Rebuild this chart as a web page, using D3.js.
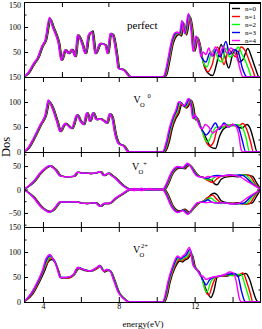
<!DOCTYPE html>
<html><head><meta charset="utf-8">
<script src="https://cdn.jsdelivr.net/npm/d3@7"></script>
<style>body{margin:0;background:#fff}svg{display:block}text{font-family:"Liberation Serif","DejaVu Serif",serif}</style>
</head><body>
<svg id="c" width="262" height="329"></svg>
<script>
const seriesNames = ["n=0","n=1","n=2","n=3","n=4"];
const seriesColors = ["#000000","#ff0000","#00ff00","#0000ff","#ff00ff"];
const xDomain = [3, 15.5];
const xTicksMajor = [4, 8, 12];
const xTicksMinor = [6, 10, 14];
const perfectXTicks = [5, 7.45, 11.9];
const yDomains = [[0,150],[0,150],[-80,80],[0,150]];
const yTicksMajor = [[0,50,100,150],[0,50,100,150],[-50,0,50],[0,50,100,150]];
const yTickLabels = [[50,100,150],[0,50,100,150],[-50,0,50],[0,50,100,150]];
const yTicksMinor = [[25,75,125],[25,75,125],[-75,-25,25,75],[25,75,125]];

// panel 1: perfect
const p1_n0 = [[3,0],[3.28,8],[3.58,27],[3.78,38],[4.01,61],[4.19,74],[4.42,115],[4.58,100],[4.77,82],[4.88,68],[5.03,34],[5.24,54],[5.42,47],[5.58,55],[5.77,41],[5.89,84],[6.12,67],[6.3,47],[6.47,84],[6.65,92],[6.82,47],[7.09,67],[7.35,64],[7.47,47],[7.62,87],[7.74,84],[7.93,47],[8.05,17],[8.32,14],[8.68,0],[10.38,0],[10.52,4],[10.7,34],[10.87,67],[11.05,82],[11.19,85],[11.31,82],[11.45,106],[11.58,84],[11.78,120],[11.92,90],[12.02,52],[12.18,78],[12.32,60],[12.45,30],[12.7,8],[12.95,3],[13.15,25],[13.4,65],[13.6,40],[13.8,18],[14.0,45],[14.15,55],[14.35,30],[14.55,35],[14.8,57],[15.0,40],[15.2,18],[15.4,0],[15.5,0]];
const p1_n1 = [[3,0],[3.26,8],[3.56,27],[3.76,38],[3.99,61],[4.17,74],[4.4,116],[4.56,100],[4.75,82],[4.86,68],[5.01,34],[5.22,54],[5.4,47],[5.56,55],[5.75,41],[5.87,84],[6.1,67],[6.28,47],[6.45,84],[6.63,90],[6.8,47],[7.07,67],[7.33,64],[7.45,47],[7.6,87],[7.72,84],[7.91,47],[8.03,17],[8.3,14],[8.66,0],[10.36,0],[10.49,4],[10.67,34],[10.84,67],[11.02,84],[11.16,87],[11.28,84],[11.42,108],[11.55,85],[11.75,122],[11.89,91],[11.99,52],[12.15,79],[12.29,62],[12.41,38],[12.55,20],[12.7,10],[12.9,22],[13.2,60],[13.4,40],[13.55,25],[13.8,55],[14.0,45],[14.2,40],[14.45,60],[14.7,50],[14.9,30],[15.1,10],[15.2,0],[15.5,0]];
const p1_n2 = [[3,0],[3.24,8],[3.54,27],[3.74,38],[3.97,61],[4.15,74],[4.38,117],[4.54,100],[4.73,82],[4.84,68],[4.99,34],[5.2,54],[5.38,47],[5.54,55],[5.73,41],[5.85,84],[6.08,67],[6.26,47],[6.43,84],[6.61,90],[6.78,47],[7.05,67],[7.31,64],[7.43,47],[7.58,87],[7.7,84],[7.89,47],[8.01,17],[8.28,14],[8.64,0],[10.34,0],[10.46,4],[10.64,34],[10.81,67],[10.99,85],[11.13,88],[11.25,85],[11.39,110],[11.52,86],[11.72,124],[11.86,92],[11.96,52],[12.12,80],[12.26,64],[12.38,41],[12.5,25],[12.65,20],[12.85,45],[13.05,55],[13.25,35],[13.45,30],[13.65,58],[13.85,40],[14.05,45],[14.3,60],[14.5,45],[14.7,30],[14.9,10],[15.0,0],[15.5,0]];
const p1_n3 = [[3,0],[3.22,8],[3.52,27],[3.72,38],[3.95,61],[4.13,74],[4.36,118],[4.52,100],[4.71,82],[4.82,68],[4.97,34],[5.18,54],[5.36,47],[5.52,55],[5.71,41],[5.83,84],[6.06,67],[6.24,47],[6.41,84],[6.59,90],[6.76,47],[7.03,67],[7.29,64],[7.41,47],[7.56,87],[7.68,84],[7.87,47],[7.99,17],[8.26,14],[8.62,0],[10.32,0],[10.43,4],[10.61,34],[10.78,67],[10.96,86],[11.1,89],[11.22,86],[11.36,111],[11.49,87],[11.69,125],[11.83,93],[11.93,52],[12.09,80],[12.23,66],[12.35,41],[12.5,32],[12.6,30],[12.8,48],[12.95,42],[13.15,55],[13.35,40],[13.65,71],[13.85,45],[14.05,55],[14.3,50],[14.5,20],[14.65,5],[14.75,0],[15.5,0]];
const p1_n4 = [[3,0],[3.2,8],[3.5,27],[3.7,38],[3.93,61],[4.11,74],[4.34,119],[4.5,100],[4.69,82],[4.8,68],[4.95,34],[5.16,54],[5.34,47],[5.5,55],[5.69,41],[5.81,84],[6.04,67],[6.22,47],[6.39,84],[6.57,90],[6.74,47],[7.01,67],[7.27,64],[7.39,47],[7.54,87],[7.66,84],[7.85,47],[7.97,17],[8.24,14],[8.6,0],[10.3,0],[10.4,4],[10.58,34],[10.75,67],[10.93,87],[11.07,90],[11.19,87],[11.33,113],[11.46,87],[11.67,127],[11.81,94],[11.91,51],[12.07,82],[12.21,67],[12.33,41],[12.45,50],[12.6,45],[12.75,58],[12.9,42],[13.1,60],[13.3,45],[13.5,60],[13.7,48],[13.9,58],[14.1,50],[14.3,30],[14.45,8],[14.55,0],[15.5,0]];

// panel 2: V_O^0
const p2_n0 = [[3,0],[3.28,8],[3.57,27],[3.92,54],[4.19,74],[4.36,100],[4.48,95],[4.63,81],[4.8,61],[4.98,41],[5.13,52],[5.24,57],[5.38,53],[5.58,47],[5.86,74],[6.03,62],[6.2,55],[6.38,78],[6.53,62],[6.7,78],[6.88,65],[7.08,66],[7.28,62],[7.43,58],[7.58,76],[7.7,70],[7.88,34],[8.05,17],[8.32,12],[8.58,0],[10.42,0],[10.66,20],[10.82,47],[11.01,67],[11.18,78],[11.31,94],[11.44,92],[11.56,88],[11.66,91],[11.83,103],[11.97,86],[12.06,64],[12.18,66],[12.31,52],[12.45,40],[12.6,28],[12.85,10],[13.1,7],[13.3,30],[13.5,45],[13.8,52],[14.0,55],[14.25,50],[14.5,48],[14.75,55],[14.95,45],[15.1,25],[15.3,0],[15.5,0]];
const p2_n1 = [[3,0],[3.26,8],[3.55,27],[3.9,54],[4.17,74],[4.34,101],[4.46,95],[4.61,81],[4.78,61],[4.96,41],[5.11,52],[5.22,57],[5.36,53],[5.56,47],[5.84,74],[6.01,62],[6.18,55],[6.36,78],[6.51,62],[6.68,78],[6.86,65],[7.06,66],[7.26,62],[7.41,58],[7.56,76],[7.68,70],[7.86,34],[8.03,17],[8.3,12],[8.56,0],[10.39,0],[10.62,20],[10.78,47],[10.97,68],[11.14,80],[11.27,96],[11.4,94],[11.52,89],[11.62,92],[11.79,104],[11.93,87],[12.02,65],[12.14,68],[12.27,55],[12.4,42],[12.55,25],[12.8,12],[13.0,20],[13.2,45],[13.5,50],[13.75,52],[14.0,55],[14.3,52],[14.55,57],[14.75,45],[14.95,20],[15.1,0],[15.5,0]];
const p2_n2 = [[3,0],[3.24,8],[3.53,27],[3.88,54],[4.15,74],[4.32,102],[4.44,95],[4.59,81],[4.76,61],[4.94,41],[5.09,52],[5.2,57],[5.34,53],[5.54,47],[5.82,74],[5.99,62],[6.16,55],[6.34,78],[6.49,62],[6.66,78],[6.84,65],[7.04,66],[7.24,62],[7.39,58],[7.54,76],[7.66,70],[7.84,34],[8.01,17],[8.28,12],[8.54,0],[10.36,0],[10.58,20],[10.74,47],[10.93,69],[11.1,82],[11.23,98],[11.36,96],[11.48,90],[11.58,93],[11.75,105],[11.89,88],[11.98,66],[12.1,70],[12.23,58],[12.38,45],[12.5,30],[12.7,20],[12.9,35],[13.15,50],[13.45,48],[13.7,55],[14.0,52],[14.25,55],[14.5,50],[14.7,30],[14.9,0],[15.5,0]];
const p2_n3 = [[3,0],[3.22,8],[3.51,27],[3.86,54],[4.13,74],[4.3,103],[4.42,95],[4.57,81],[4.74,61],[4.92,41],[5.07,52],[5.18,57],[5.32,53],[5.52,47],[5.8,74],[5.97,62],[6.14,55],[6.32,78],[6.47,62],[6.64,78],[6.82,65],[7.02,66],[7.22,62],[7.37,58],[7.52,76],[7.64,70],[7.82,34],[7.99,17],[8.26,12],[8.52,0],[10.33,0],[10.54,20],[10.7,47],[10.89,70],[11.06,84],[11.19,100],[11.32,98],[11.44,91],[11.54,94],[11.71,106],[11.85,89],[11.94,67],[12.06,72],[12.19,60],[12.36,46],[12.5,38],[12.6,34],[12.85,45],[13.1,58],[13.3,45],[13.55,58],[13.8,50],[14.05,55],[14.3,50],[14.5,25],[14.7,0],[15.5,0]];
const p2_n4 = [[3,0],[3.2,8],[3.49,27],[3.84,54],[4.11,74],[4.28,104],[4.4,95],[4.55,81],[4.72,61],[4.9,41],[5.05,52],[5.16,57],[5.3,53],[5.5,47],[5.78,74],[5.95,62],[6.12,55],[6.3,78],[6.45,62],[6.62,78],[6.8,65],[7.0,66],[7.2,62],[7.35,58],[7.5,76],[7.62,70],[7.8,34],[7.97,17],[8.24,12],[8.5,0],[10.3,0],[10.5,20],[10.66,47],[10.85,70],[11.02,85],[11.15,100],[11.28,98],[11.4,92],[11.5,95],[11.67,107],[11.81,90],[11.9,67],[12.02,74],[12.15,62],[12.34,47],[12.45,48],[12.55,55],[12.75,50],[12.95,38],[13.2,45],[13.4,52],[13.6,55],[13.8,50],[14.0,55],[14.2,50],[14.35,30],[14.45,5],[14.55,0],[15.5,0]];

// panel 3: V_O^+ (spin up)
const p3u_n0 = [[3,0],[3.57,17],[3.92,35],[4.18,45],[4.42,50],[4.58,47],[4.72,42],[4.98,29],[5.33,27],[5.68,28],[5.89,37],[6.13,35],[6.38,35],[6.58,34],[6.82,35],[7.08,38],[7.28,30],[7.53,35],[7.68,30],[7.88,24],[8.23,10],[8.68,0],[10.42,0],[10.62,12],[10.87,35],[11.22,46],[11.49,44],[11.62,49],[11.75,52],[11.92,45],[12.1,34],[12.27,28],[12.45,26],[12.7,22],[12.9,20],[13.05,12],[13.18,10],[13.4,22],[13.7,27],[14.0,28],[14.3,27],[14.5,30],[14.7,31],[14.9,30],[15.06,28],[15.27,14],[15.48,0]];
const p3u_n1 = [[3,0],[3.55,17],[3.9,35],[4.16,45],[4.4,50],[4.56,47],[4.7,42],[4.96,29],[5.31,27],[5.66,28],[5.87,37],[6.11,35],[6.36,35],[6.56,34],[6.8,35],[7.06,38],[7.26,30],[7.51,35],[7.66,30],[7.86,24],[8.21,10],[8.66,0],[10.39,0],[10.59,12],[10.84,35],[11.19,47],[11.46,45],[11.59,50],[11.72,53],[11.89,46],[12.07,35],[12.24,28],[12.42,26],[12.65,20],[12.95,15],[13.15,22],[13.4,28],[13.7,29],[14.0,30],[14.3,29],[14.6,31],[14.88,30],[15.2,12],[15.48,0]];
const p3u_n2 = [[3,0],[3.53,17],[3.88,35],[4.14,45],[4.38,50],[4.54,47],[4.68,42],[4.94,29],[5.29,27],[5.64,28],[5.85,37],[6.09,35],[6.34,35],[6.54,34],[6.78,35],[7.04,38],[7.24,30],[7.49,35],[7.64,30],[7.84,24],[8.19,10],[8.64,0],[10.36,0],[10.56,12],[10.81,35],[11.16,48],[11.43,46],[11.56,51],[11.69,54],[11.86,47],[12.04,35],[12.21,28],[12.39,27],[12.6,22],[12.85,20],[13.05,26],[13.3,30],[13.6,29],[13.9,31],[14.2,30],[14.5,31],[14.7,30],[15.1,13],[15.48,0]];
const p3u_n3 = [[3,0],[3.51,17],[3.86,35],[4.12,45],[4.36,50],[4.52,47],[4.66,42],[4.92,29],[5.27,27],[5.62,28],[5.83,37],[6.07,35],[6.32,35],[6.52,34],[6.76,35],[7.02,38],[7.22,30],[7.47,35],[7.62,30],[7.82,24],[8.17,10],[8.62,0],[10.33,0],[10.53,12],[10.78,35],[11.13,48],[11.4,46],[11.53,51],[11.66,55],[11.83,47],[12.01,35],[12.18,28],[12.36,27],[12.55,25],[12.7,24],[12.9,28],[13.2,30],[13.5,29],[13.8,31],[14.1,30],[14.35,31],[14.53,30],[15.0,14],[15.48,0]];
const p3u_n4 = [[3,0],[3.49,17],[3.84,35],[4.1,45],[4.34,51],[4.5,47],[4.64,42],[4.9,29],[5.25,27],[5.6,28],[5.81,37],[6.05,35],[6.3,35],[6.5,34],[6.74,35],[7.0,38],[7.2,30],[7.45,35],[7.6,30],[7.8,24],[8.15,10],[8.6,0],[8.8,2],[9.0,0],[9.2,3],[9.4,0],[9.6,2],[9.8,0],[10.3,0],[10.5,12],[10.75,35],[11.1,49],[11.37,47],[11.5,52],[11.63,56],[11.8,48],[11.98,35],[12.15,28],[12.33,27],[12.5,25],[12.7,28],[13.0,27],[13.3,28],[13.6,30],[13.9,31],[14.15,30],[14.27,29],[14.87,15],[15.48,0]];

// panel 3: V_O^+ (spin down)
const p3d_n0 = [[3,0],[3.57,-17],[3.92,-35],[4.18,-44],[4.42,-47],[4.58,-44],[4.72,-38],[4.98,-26],[5.33,-27],[5.78,-26],[6.08,-29],[6.38,-30],[6.82,-28],[7.08,-36],[7.28,-30],[7.53,-30],[7.88,-19],[8.23,-10],[8.68,0],[10.42,0],[10.62,-12],[10.87,-35],[11.22,-46],[11.49,-42],[11.62,-46],[11.75,-49],[11.92,-42],[12.1,-34],[12.27,-28],[12.45,-25],[12.7,-18],[12.9,-10],[13.05,-8],[13.2,-12],[13.4,-24],[13.7,-28],[14.0,-29],[14.3,-28],[14.5,-30],[14.7,-31],[14.9,-30],[15.06,-28],[15.27,-14],[15.48,0]];
const p3d_n1 = [[3,0],[3.55,-17],[3.9,-35],[4.16,-44],[4.4,-47],[4.56,-44],[4.7,-38],[4.96,-26],[5.31,-27],[5.76,-26],[6.06,-29],[6.36,-30],[6.8,-28],[7.06,-36],[7.26,-30],[7.51,-30],[7.86,-19],[8.21,-10],[8.66,0],[10.39,0],[10.59,-12],[10.84,-35],[11.19,-47],[11.46,-43],[11.59,-47],[11.72,-50],[11.89,-43],[12.07,-35],[12.24,-28],[12.42,-26],[12.65,-18],[12.95,-12],[13.15,-20],[13.4,-28],[13.7,-29],[14.0,-30],[14.3,-29],[14.6,-31],[14.88,-30],[15.2,-12],[15.48,0]];
const p3d_n2 = [[3,0],[3.53,-17],[3.88,-35],[4.14,-44],[4.38,-48],[4.54,-44],[4.68,-38],[4.94,-26],[5.29,-27],[5.74,-26],[6.04,-29],[6.34,-30],[6.78,-28],[7.04,-36],[7.24,-30],[7.49,-30],[7.84,-19],[8.19,-10],[8.64,0],[10.36,0],[10.56,-12],[10.81,-35],[11.16,-48],[11.43,-44],[11.56,-48],[11.69,-51],[11.86,-44],[12.04,-35],[12.21,-28],[12.39,-27],[12.6,-22],[12.85,-18],[13.05,-24],[13.3,-29],[13.6,-28],[13.9,-30],[14.2,-31],[14.5,-30],[14.7,-30],[15.1,-13],[15.48,0]];
const p3d_n3 = [[3,0],[3.51,-17],[3.86,-35],[4.12,-44],[4.36,-48],[4.52,-44],[4.66,-38],[4.92,-26],[5.27,-27],[5.72,-26],[6.02,-29],[6.32,-30],[6.76,-28],[7.02,-36],[7.22,-30],[7.47,-30],[7.82,-19],[8.17,-10],[8.62,0],[10.33,0],[10.53,-12],[10.78,-35],[11.13,-48],[11.4,-44],[11.53,-48],[11.66,-52],[11.83,-44],[12.01,-35],[12.18,-28],[12.36,-27],[12.55,-25],[12.7,-22],[12.9,-27],[13.2,-29],[13.5,-28],[13.8,-30],[14.1,-31],[14.35,-30],[14.53,-30],[15.0,-14],[15.48,0]];
const p3d_n4 = [[3,0],[3.49,-17],[3.84,-35],[4.1,-44],[4.34,-49],[4.5,-44],[4.64,-38],[4.9,-26],[5.25,-27],[5.7,-26],[6.0,-29],[6.3,-30],[6.74,-28],[7.0,-36],[7.2,-30],[7.45,-30],[7.8,-19],[8.15,-10],[8.6,0],[8.8,-2],[9.0,0],[9.2,-2],[9.4,0],[10.3,0],[10.5,-12],[10.75,-35],[11.1,-49],[11.37,-45],[11.5,-49],[11.63,-53],[11.8,-45],[11.98,-35],[12.15,-28],[12.33,-27],[12.6,-28],[12.9,-27],[13.2,-29],[13.5,-28],[13.8,-30],[14.1,-31],[14.27,-30],[14.87,-15],[15.48,0]];

// panel 4: V_O^2+
const p4_n0 = [[3,0],[3.48,17],[3.84,42],[4.12,65],[4.27,80],[4.47,85],[4.62,80],[4.8,65],[4.97,48],[5.32,48],[5.67,55],[5.9,67],[6.2,63],[6.55,62],[6.9,68],[7.04,72],[7.25,60],[7.43,63],[7.61,60],[7.79,44],[8.05,18],[8.32,6],[8.58,0],[10.42,0],[10.57,15],[10.7,39],[10.96,68],[11.22,82],[11.37,80],[11.49,84],[11.62,86],[11.84,95],[11.92,90],[12.02,72],[12.28,58],[12.45,40],[12.6,25],[12.86,9],[13.0,20],[13.2,50],[13.4,52],[13.7,52],[14.0,55],[14.3,52],[14.5,55],[14.7,57],[14.9,45],[15.1,20],[15.24,5],[15.35,0],[15.5,0]];
const p4_n1 = [[3,0],[3.46,18],[3.82,43],[4.08,66],[4.2,76],[4.43,89],[4.56,85],[4.7,76],[4.84,61],[4.96,48],[5.31,48],[5.66,55],[5.89,68],[6.19,64],[6.54,62],[6.89,68],[7.03,72],[7.24,61],[7.42,64],[7.6,61],[7.77,44],[8.03,18],[8.3,7],[8.56,0],[10.39,0],[10.54,15],[10.67,39],[10.93,69],[11.19,85],[11.34,82],[11.46,86],[11.59,88],[11.81,98],[11.89,92],[11.99,72],[12.25,59],[12.42,45],[12.55,25],[12.75,14],[12.95,35],[13.15,50],[13.5,52],[13.8,55],[14.1,53],[14.35,55],[14.55,58],[14.75,40],[14.95,15],[15.06,0],[15.5,0]];
const p4_n2 = [[3,0],[3.44,19],[3.8,44],[4.06,67],[4.17,78],[4.41,91],[4.54,86],[4.68,77],[4.82,61],[4.94,49],[5.29,49],[5.64,55],[5.87,69],[6.17,65],[6.52,62],[6.87,69],[7.01,73],[7.22,62],[7.4,65],[7.58,62],[7.75,45],[8.01,19],[8.28,7],[8.54,0],[10.36,0],[10.51,15],[10.64,39],[10.9,70],[11.16,88],[11.31,84],[11.43,88],[11.56,90],[11.78,101],[11.86,95],[11.96,73],[12.22,60],[12.39,48],[12.5,30],[12.65,20],[12.85,40],[13.1,50],[13.4,52],[13.7,55],[14.0,53],[14.25,55],[14.45,55],[14.65,35],[14.85,10],[14.95,0],[15.5,0]];
const p4_n3 = [[3,0],[3.42,19],[3.78,44],[4.04,68],[4.14,80],[4.39,93],[4.52,87],[4.66,78],[4.8,62],[4.92,49],[5.27,49],[5.62,55],[5.85,69],[6.15,65],[6.5,62],[6.85,69],[6.99,73],[7.2,62],[7.38,65],[7.56,62],[7.73,45],[7.99,19],[8.26,7],[8.52,0],[10.33,0],[10.48,15],[10.61,39],[10.87,71],[11.13,90],[11.28,86],[11.4,90],[11.53,93],[11.75,105],[11.83,97],[11.93,74],[12.19,61],[12.36,50],[12.5,40],[12.6,34],[12.8,45],[13.05,50],[13.35,52],[13.6,55],[13.85,56],[14.1,57],[14.3,50],[14.45,25],[14.6,5],[14.68,0],[15.5,0]];
const p4_n4 = [[3,0],[3.4,19],[3.76,45],[4.02,69],[4.11,82],[4.37,95],[4.5,88],[4.64,79],[4.78,62],[4.9,49],[5.25,49],[5.6,55],[5.83,69],[6.13,65],[6.48,62],[6.83,69],[6.97,73],[7.18,62],[7.36,65],[7.54,62],[7.71,45],[7.97,19],[8.24,7],[8.5,0],[10.3,0],[10.45,15],[10.58,39],[10.84,72],[11.1,92],[11.25,88],[11.37,92],[11.5,96],[11.72,109],[11.8,100],[11.9,75],[12.16,62],[12.33,52],[12.42,52],[12.6,45],[12.8,48],[13.0,50],[13.3,52],[13.6,55],[13.85,60],[14.05,58],[14.2,40],[14.34,10],[14.45,0],[15.5,0]];

const panelSeries = [
  [[p1_n0],[p1_n1],[p1_n2],[p1_n3],[p1_n4]],
  [[p2_n0],[p2_n1],[p2_n2],[p2_n3],[p2_n4]],
  [[p3u_n0,p3d_n0],[p3u_n1,p3d_n1],[p3u_n2,p3d_n2],[p3u_n3,p3d_n3],[p3u_n4,p3d_n4]],
  [[p4_n0],[p4_n1],[p4_n2],[p4_n3],[p4_n4]]
];

const svg = d3.select("#c");
const L = 24, R = 261;
const panelBox = [{top:2,bottom:77},{top:77,bottom:152},{top:152,bottom:227},{top:227,bottom:302}];
const x = d3.scaleLinear().domain(xDomain).range([L, R]);
const fnt = "\"Liberation Serif\",\"DejaVu Serif\",serif";

panelBox.forEach((b, i) => {
  const y = d3.scaleLinear().domain(yDomains[i]).range([b.bottom, b.top]);
  const clipId = "clip" + i;
  svg.append("clipPath").attr("id", clipId).append("rect")
    .attr("x", L).attr("y", b.top).attr("width", R - L).attr("height", b.bottom - b.top);
  const line = d3.line().x(d => x(d[0])).y(d => y(d[1])).curve(d3.curveMonotoneX);
  const g = svg.append("g").attr("clip-path", `url(#${clipId})`);
  panelSeries[i].forEach((arrs, si) => {
    arrs.forEach(arr => {
      g.append("path").attr("d", line(arr)).attr("fill", "none")
        .attr("stroke", seriesColors[si]).attr("stroke-width", 1.4)
        .attr("stroke-linejoin", "round");
    });
  });

  const styleAxis = sel => {
    sel.select(".domain").remove();
    sel.selectAll("line").attr("stroke", "#000").attr("stroke-width", 1);
    sel.selectAll("text").attr("font-family", fnt).attr("font-size", 8).attr("fill", "#000");
  };
  const labs = yTickLabels[i];
  const leftAxis = svg.append("g").attr("transform", `translate(${L},0)`)
    .call(d3.axisLeft(y).tickValues(yTicksMajor[i]).tickSize(-4).tickPadding(3)
      .tickFormat(d => labs.includes(d) ? d3.format("d")(d) : ""))
    .call(styleAxis);
  if (i === 0) {
    leftAxis.selectAll("text").filter(d => d === 150).attr("dy", "0.65em");
  }
  svg.append("g").attr("transform", `translate(${L},0)`)
    .call(d3.axisLeft(y).tickValues(yTicksMinor[i]).tickSize(-2.5).tickFormat(""))
    .call(styleAxis);
  svg.append("g").attr("transform", `translate(${R},0)`)
    .call(d3.axisRight(y).tickValues(yTicksMajor[i]).tickSize(-4).tickFormat(""))
    .call(styleAxis);
  svg.append("g").attr("transform", `translate(${R},0)`)
    .call(d3.axisRight(y).tickValues(yTicksMinor[i]).tickSize(-2.5).tickFormat(""))
    .call(styleAxis);

  const xt = i === 0 ? perfectXTicks : xTicksMajor.concat(xTicksMinor);
  svg.append("g").attr("transform", `translate(0,${b.top})`)
    .call(d3.axisTop(x).tickValues(xt).tickSize(-5).tickFormat(""))
    .call(styleAxis);
  const bottomAxis = d3.axisBottom(x).tickValues(xt).tickSize(-5);
  if (i === 3) {
    svg.append("g").attr("transform", `translate(0,${b.bottom})`)
      .call(bottomAxis.tickPadding(1).tickFormat(d => xTicksMajor.includes(d) ? d3.format("d")(d) : ""))
      .call(styleAxis);
  } else {
    svg.append("g").attr("transform", `translate(0,${b.bottom})`)
      .call(bottomAxis.tickFormat(""))
      .call(styleAxis);
  }

  svg.append("rect").attr("x", L + 0.5).attr("y", b.top + 0.5)
    .attr("width", R - L - 1).attr("height", b.bottom - b.top)
    .attr("fill", "none").attr("stroke", "#000").attr("stroke-width", 1);
});

const lab = (t, xx, yy, s) => svg.append("text").attr("x", xx).attr("y", yy)
  .attr("font-family", fnt).attr("font-size", s).attr("fill", "#000").text(t);
lab("perfect", 127, 29, 11);
lab("V", 133.5, 103, 10); lab("O", 140, 106.5, 6.5); lab("0", 147.5, 98, 6.5);
lab("V", 132, 170, 10); lab("O", 138.5, 173.5, 6.5); lab("+", 143, 166, 7);
lab("V", 133, 253, 10); lab("O", 139.5, 256.5, 6.5); lab("2+", 141, 248, 6.5);

const lg = svg.append("g");
lg.append("rect").attr("x", 229.5).attr("y", 3.5).attr("width", 31).attr("height", 41)
  .attr("fill", "#fff").attr("stroke", "#000").attr("stroke-width", 1);
seriesNames.forEach((n, k) => {
  const yy = 8.5 + k * 8;
  lg.append("line").attr("x1", 232).attr("x2", 240).attr("y1", yy).attr("y2", yy)
    .attr("stroke", seriesColors[k]).attr("stroke-width", 1.4);
  lg.append("text").attr("x", 245).attr("y", yy + 2.4).attr("font-family", fnt)
    .attr("font-size", 7).attr("fill", "#000").text(n);
});

svg.append("text").attr("transform", "translate(10,147) rotate(-90)")
  .attr("text-anchor", "middle").attr("font-family", fnt).attr("font-size", 12.5)
  .attr("fill", "#000").text("Dos");
svg.append("text").attr("x", 143).attr("y", 326.5).attr("text-anchor", "middle")
  .attr("font-family", fnt).attr("font-size", 9).attr("fill", "#000").text("energy(eV)");
</script>
</body></html>
